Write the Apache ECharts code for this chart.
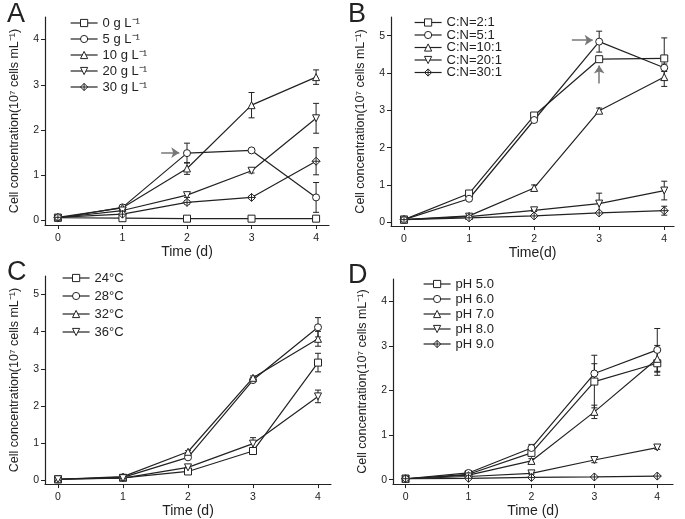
<!DOCTYPE html>
<html>
<head>
<meta charset="utf-8">
<script src="https://cdn.jsdelivr.net/npm/echarts@6/dist/echarts.min.js"></script>
<style>
  html, body { margin: 0; padding: 0; background: #fff; }
  #main { width: 685px; height: 519px; }
</style>
</head>
<body>
<div id="main"></div>
<script>
// time points (d)
var days = [0, 1, 2, 3, 4];
var tickX = [0, 1, 2, 3, 4];
var tickY45 = [0, 1, 2, 3, 4];
var tickY55 = [0, 1, 2, 3, 4, 5];

// A: glucose concentration
var namesA = ['0 g L⁻¹', '5 g L⁻¹', '10 g L⁻¹', '20 g L⁻¹', '30 g L⁻¹'];
var a0 = [0.06, 0.05, 0.04, 0.04, 0.04];
var a0Err = [0, 0, 0, 0, 0];
var a5 = [0.05, 0.29, 1.49, 1.55, 0.51];
var a5Err = [0, 0.02, 0.22, 0.03, 0.33];
var a10 = [0.07, 0.28, 1.15, 2.55, 3.17];
var a10Err = [0, 0.02, 0.13, 0.28, 0.16];
var a20 = [0.06, 0.22, 0.56, 1.1, 2.26];
var a20Err = [0, 0.02, 0.05, 0.05, 0.33];
var a30 = [0.07, 0.14, 0.4, 0.51, 1.31];
var a30Err = [0, 0.02, 0.04, 0.03, 0.3];

// B: C:N ratio
var namesB = ['C:N=2:1', 'C:N=5:1', 'C:N=10:1', 'C:N=20:1', 'C:N=30:1'];
var b2 = [0.07, 0.77, 2.86, 4.37, 4.39];
var b2Err = [0, 0.05, 0.05, 0.05, 0.55];
var b5 = [0.07, 0.63, 2.74, 4.84, 4.14];
var b5Err = [0, 0.05, 0.05, 0.28, 0.1];
var b10 = [0.07, 0.17, 0.92, 2.99, 3.89];
var b10Err = [0, 0.02, 0.08, 0.07, 0.25];
var b20 = [0.07, 0.15, 0.32, 0.5, 0.85];
var b20Err = [0, 0.02, 0.03, 0.28, 0.25];
var b30 = [0.07, 0.12, 0.17, 0.25, 0.31];
var b30Err = [0, 0.02, 0.02, 0.03, 0.12];

// C: temperature
var namesC = ['24°C', '28°C', '32°C', '36°C'];
var c24 = [0.03, 0.07, 0.24, 0.79, 3.17];
var c24Err = [0, 0.01, 0.03, 0.05, 0.25];
var c28 = [0.03, 0.08, 0.62, 2.7, 4.12];
var c28Err = [0, 0.01, 0.03, 0.05, 0.26];
var c32 = [0.03, 0.1, 0.77, 2.76, 3.81];
var c32Err = [0, 0.01, 0.03, 0.05, 0.2];
var c36 = [0.03, 0.06, 0.35, 0.99, 2.26];
var c36Err = [0, 0.01, 0.03, 0.16, 0.17];

// D: pH
var namesD = ['pH 5.0', 'pH 6.0', 'pH 7.0', 'pH 8.0', 'pH 9.0'];
var d5 = [0.02, 0.12, 0.6, 2.2, 2.61];
var d5Err = [0, 0.01, 0.05, 0.59, 0.27];
var d6 = [0.02, 0.15, 0.71, 2.38, 2.91];
var d6Err = [0, 0.01, 0.08, 0.22, 0.48];
var d7 = [0.02, 0.1, 0.42, 1.52, 2.71];
var d7Err = [0, 0.01, 0.05, 0.15, 0.3];
var d8 = [0.02, 0.07, 0.14, 0.44, 0.72];
var d8Err = [0, 0.01, 0.02, 0.06, 0.04];
var d9 = [0.02, 0.03, 0.05, 0.06, 0.08];
var d9Err = [0, 0, 0, 0, 0];

// arrows (data space) [from, to]
var arrowA = [[1.6, 1.5], [1.88, 1.5]];
var arrowB1 = [[2.58, 4.88], [2.9, 4.88]];
var arrowB2 = [[3, 3.72], [3, 4.2]];

var INK = '#222';
var FONT = 'Liberation Sans, Arial, sans-serif';
var diamondX = 'path://M0,-10L10,0L0,10L-10,0Z M0,-10L0,10 M-10,0L10,0';
var symbols = ['rect', 'circle', 'triangle', 'path://M-10,-8L10,-8L0,9Z', diamondX];

var grids = [
  {left: 45, top: 17, width: 284, height: 208},
  {left: 391, top: 17, width: 283, height: 209},
  {left: 45, top: 276, width: 286, height: 210},
  {left: 393, top: 279, width: 280, height: 206}
];

function xAxisFor(i, min, max) {
  return {
    type: 'value', gridIndex: i, min: min, max: max,
    name: i === 1 ? 'Time(d)' : 'Time (d)',
    nameLocation: 'middle', nameGap: 17,
    nameTextStyle: {fontFamily: FONT, fontSize: 14, color: INK},
    axisLine: {show: true, onZero: false, lineStyle: {color: INK, width: 1.2}},
    axisTick: {show: true, length: 4, customValues: tickX, lineStyle: {color: INK}},
    axisLabel: {customValues: tickX, fontFamily: FONT, fontSize: 10.5, color: INK, margin: 8},
    splitLine: {show: false}
  };
}
function yAxisFor(i, min, max, ticks) {
  return {
    type: 'value', gridIndex: i, min: min, max: max,
    name: 'Cell concentration(10⁷ cells mL⁻¹)',
    nameLocation: 'middle', nameGap: 24,
    nameTextStyle: {fontFamily: FONT, fontSize: 12.5, color: INK},
    axisLine: {show: true, onZero: false, lineStyle: {color: INK, width: 1.2}},
    axisTick: {show: true, length: 4, customValues: ticks, lineStyle: {color: INK}},
    axisLabel: {customValues: ticks, fontFamily: FONT, fontSize: 10.5, color: INK, margin: 6},
    splitLine: {show: false}
  };
}

var series = [];
function addSeries(g, name, vals, errs, k, arrows) {
  var pts = days.map(function (d, j) { return [d, vals[j]]; });
  var s = {
    name: name, type: 'line', xAxisIndex: g, yAxisIndex: g,
    data: pts, symbol: symbols[k], symbolSize: k === 4 ? 8 : 7,
    showSymbol: true, z: 3,
    lineStyle: {color: INK, width: 1.2},
    itemStyle: {color: '#fff', borderColor: INK, borderWidth: 1},
    emphasis: {disabled: true}
  };
  if (arrows) {
    s.markLine = {
      silent: true, symbol: ['none', 'arrow'], symbolSize: 8,
      label: {show: false},
      lineStyle: {color: '#777', width: 1.5, type: 'solid'},
      data: arrows.map(function (a) { return [{coord: a[0]}, {coord: a[1]}]; })
    };
  }
  series.push(s);
  var eb = [];
  days.forEach(function (d, j) { if (errs[j] > 0) eb.push([d, vals[j], errs[j]]); });
  series.push({
    type: 'custom', xAxisIndex: g, yAxisIndex: g, z: 2, clip: false, silent: true,
    data: eb,
    renderItem: function (params, api) {
      var x = api.value(0), y = api.value(1), e = api.value(2);
      var hi = api.coord([x, y + e]);
      var lo = api.coord([x, y - e]);
      var c = 3;
      var st = {stroke: INK, lineWidth: 1};
      return {type: 'group', children: [
        {type: 'line', shape: {x1: hi[0], y1: hi[1], x2: lo[0], y2: lo[1]}, style: st},
        {type: 'line', shape: {x1: hi[0] - c, y1: hi[1], x2: hi[0] + c, y2: hi[1]}, style: st},
        {type: 'line', shape: {x1: lo[0] - c, y1: lo[1], x2: lo[0] + c, y2: lo[1]}, style: st}
      ]};
    }
  });
}

addSeries(0, namesA[0], a0, a0Err, 0);
addSeries(0, namesA[1], a5, a5Err, 1, [arrowA]);
addSeries(0, namesA[2], a10, a10Err, 2);
addSeries(0, namesA[3], a20, a20Err, 3);
addSeries(0, namesA[4], a30, a30Err, 4);

addSeries(1, namesB[0], b2, b2Err, 0, [arrowB2]);
addSeries(1, namesB[1], b5, b5Err, 1, [arrowB1]);
addSeries(1, namesB[2], b10, b10Err, 2);
addSeries(1, namesB[3], b20, b20Err, 3);
addSeries(1, namesB[4], b30, b30Err, 4);

addSeries(2, namesC[0], c24, c24Err, 0);
addSeries(2, namesC[1], c28, c28Err, 1);
addSeries(2, namesC[2], c32, c32Err, 2);
addSeries(2, namesC[3], c36, c36Err, 3);

addSeries(3, namesD[0], d5, d5Err, 0);
addSeries(3, namesD[1], d6, d6Err, 1);
addSeries(3, namesD[2], d7, d7Err, 2);
addSeries(3, namesD[3], d8, d8Err, 3);
addSeries(3, namesD[4], d9, d9Err, 4);

function legendFor(names, left, top, gap) {
  return {
    data: names, orient: 'vertical', left: left, top: top, padding: 0,
    itemWidth: 27, itemHeight: 9, itemGap: gap, selectedMode: false,
    itemStyle: {color: '#fff', borderColor: INK, borderWidth: 1},
    lineStyle: {color: INK, width: 1.2},
    textStyle: {fontFamily: FONT, fontSize: 13, color: INK}
  };
}

var letter = function (t, x, y) {
  return {type: 'text', left: x, top: y,
    style: {text: t, font: '27px ' + FONT, fill: INK}};
};

var option = {
  animation: false,
  grid: grids,
  xAxis: [xAxisFor(0, -0.2, 4.2), xAxisFor(1, -0.2, 4.15), xAxisFor(2, -0.2, 4.2), xAxisFor(3, -0.2, 4.25)],
  yAxis: [yAxisFor(0, -0.1, 4.5, tickY45), yAxisFor(1, -0.1, 5.5, tickY55),
          yAxisFor(2, -0.1, 5.5, tickY55), yAxisFor(3, -0.1, 4.5, tickY45)],
  legend: [
    legendFor(namesA, 70, 16.5, 3),
    legendFor(namesB, 414, 16, -0.5),
    legendFor(namesC, 62, 271.5, 5),
    legendFor(namesD, 423, 277.5, 2)
  ],
  graphic: [letter('A', 7, 1), letter('B', 348, 1), letter('C', 7, 259), letter('D', 348, 262)],
  series: series
};

var myChart = echarts.init(document.getElementById('main'));
myChart.setOption(option);
</script>
</body>
</html>
